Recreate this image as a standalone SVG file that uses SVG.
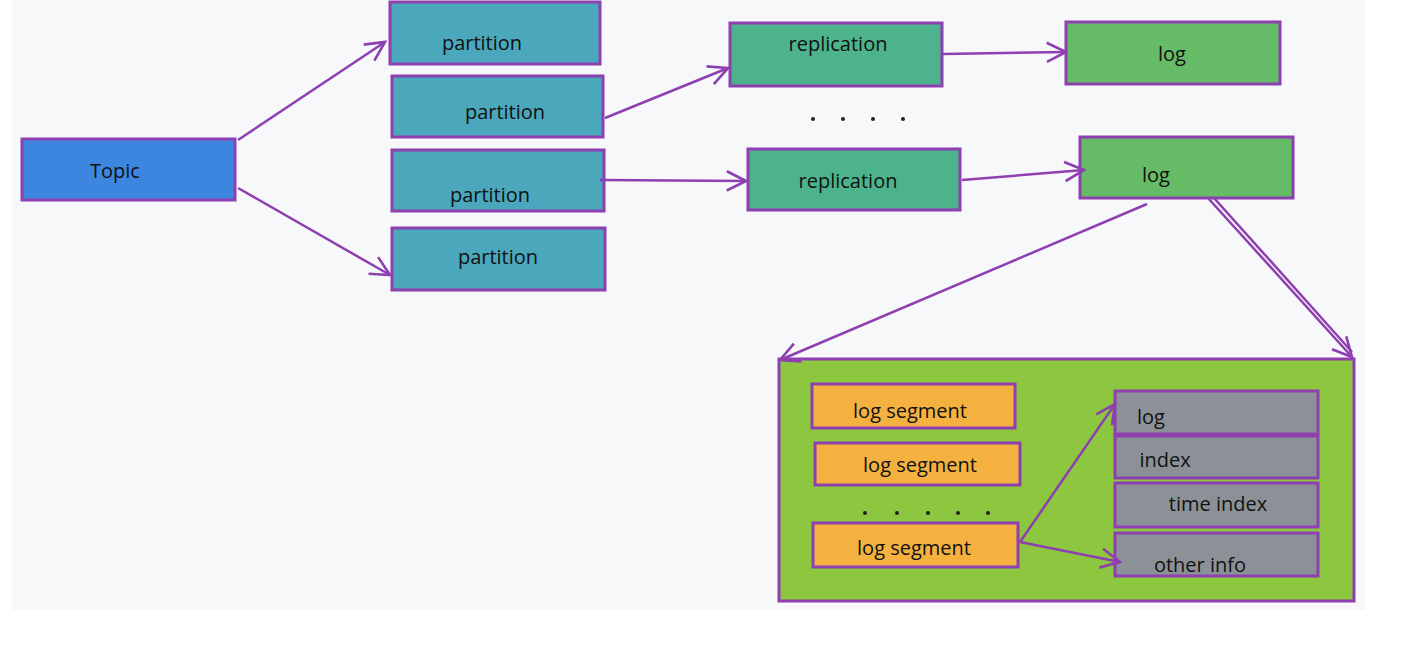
<svg xmlns="http://www.w3.org/2000/svg" width="1402" height="654" viewBox="0 0 1402 654">
<defs>
<marker id="ah" viewBox="0 0 20 20" refX="18" refY="10" markerWidth="24" markerHeight="24" markerUnits="userSpaceOnUse" orient="auto">
<path d="M2,2 L18,10 L2,18" fill="none" stroke="#8e3fb0" stroke-width="2.2"/>
</marker>
<style>
.box{stroke:#8e3fb0;stroke-width:3}
.t{font-family:"Open Sans","Liberation Sans",sans-serif;font-size:20px;fill:#111;text-anchor:middle}
.c{fill:none;stroke:#8e3fb0;stroke-width:2.5}
.dot{fill:#222}
</style>
</defs>
<rect width="1402" height="654" fill="#ffffff"/>
<rect x="12" y="0" width="1353" height="610" fill="#f7f8fa"/>

<g id="topic"><rect class="box" x="22" y="139" width="213" height="61" fill="#3d86e0"/><text class="t" x="115" y="178">Topic</text></g>
<g id="partition1"><rect class="box" x="390" y="2" width="210" height="62" fill="#4aa7bc"/><text class="t" x="482" y="50">partition</text></g>
<g id="partition2"><rect class="box" x="392" y="76" width="211" height="61" fill="#4aa7bc"/><text class="t" x="505" y="119">partition</text></g>
<g id="partition3"><rect class="box" x="392" y="150" width="212" height="61" fill="#4aa7bc"/><text class="t" x="490" y="202">partition</text></g>
<g id="partition4"><rect class="box" x="392" y="228" width="213" height="62" fill="#4aa7bc"/><text class="t" x="498" y="264">partition</text></g>
<g id="replication1"><rect class="box" x="730" y="23" width="212" height="63" fill="#4cb38c"/><text class="t" x="838" y="51">replication</text></g>
<g id="replication2"><rect class="box" x="748" y="149" width="212" height="61" fill="#4cb38c"/><text class="t" x="848" y="188">replication</text></g>
<g id="log1"><rect class="box" x="1066" y="22" width="214" height="62" fill="#66bb66"/><text class="t" x="1172" y="61">log</text></g>
<g id="log2"><rect class="box" x="1080" y="137" width="213" height="61" fill="#66bb66"/><text class="t" x="1156" y="182">log</text></g>
<g id="dots1"><circle class="dot" cx="813" cy="119" r="2"/><circle class="dot" cx="843" cy="119" r="2"/><circle class="dot" cx="873" cy="119" r="2"/><circle class="dot" cx="903" cy="119" r="2"/></g>

<g id="logdetail">
<rect class="box" x="779" y="359" width="575" height="242" fill="#8dc63f"/>
<g id="seg1"><rect class="box" x="812" y="384" width="203" height="44" fill="#f5b140"/><text class="t" x="910" y="418">log segment</text></g>
<g id="seg2"><rect class="box" x="815" y="443" width="205" height="42" fill="#f5b140"/><text class="t" x="920" y="472">log segment</text></g>
<g id="dots2"><circle class="dot" cx="865" cy="513" r="2"/><circle class="dot" cx="897" cy="513" r="2"/><circle class="dot" cx="928" cy="513" r="2"/><circle class="dot" cx="958" cy="513" r="2"/><circle class="dot" cx="988" cy="513" r="2"/></g>
<g id="seg3"><rect class="box" x="813" y="523" width="205" height="44" fill="#f5b140"/><text class="t" x="914" y="555">log segment</text></g>
<g id="flog"><rect class="box" x="1115" y="391" width="203" height="43" fill="#8b9197"/><text class="t" x="1151" y="424">log</text></g>
<g id="findex"><rect class="box" x="1115" y="436" width="203" height="42" fill="#8b9197"/><text class="t" x="1165" y="467">index</text></g>
<g id="ftimeindex"><rect class="box" x="1115" y="483" width="203" height="44" fill="#8b9197"/><text class="t" x="1218" y="511">time index</text></g>
<g id="fother"><rect class="box" x="1115" y="533" width="203" height="43" fill="#8b9197"/><text class="t" x="1200" y="572">other info</text></g>
</g>

<g id="connectors">
<path class="c" d="M238,140 L385,42" marker-end="url(#ah)"/>
<path class="c" d="M238,188 L390,275" marker-end="url(#ah)"/>
<path class="c" d="M605,118 L728,68" marker-end="url(#ah)"/>
<path class="c" d="M600,180 L746,181" marker-end="url(#ah)"/>
<path class="c" d="M943,54 L1066,52" marker-end="url(#ah)"/>
<path class="c" d="M962,180 L1084,170" marker-end="url(#ah)"/>
<path class="c" d="M1147,204 L780,360" marker-end="url(#ah)"/>
<path class="c" d="M1208,198 L1352,357" marker-end="url(#ah)"/>
<path class="c" d="M1214,198 L1352,352" stroke-width="1.6"/>
<path class="c" d="M1020,542 L1115,404" marker-end="url(#ah)"/>
<path class="c" d="M1020,542 L1120,562" marker-end="url(#ah)"/>
</g>
</svg>
